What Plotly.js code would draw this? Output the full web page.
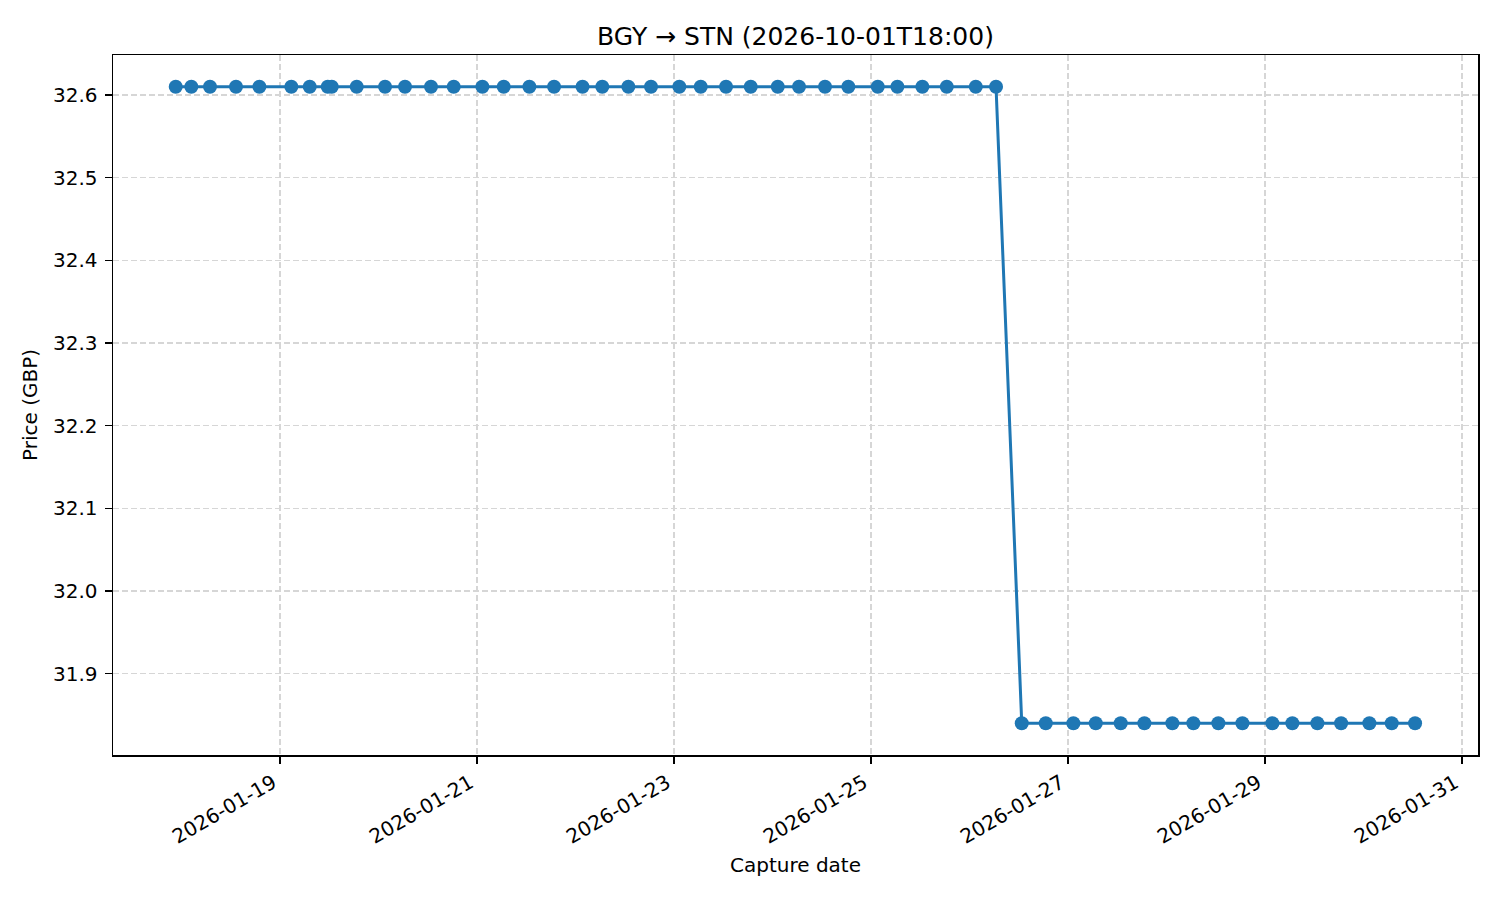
<!DOCTYPE html>
<html>
<head>
<meta charset="utf-8">
<script src="https://cdn.plot.ly/plotly-3.0.1.min.js"></script>
<style>
    html, body { margin: 0; padding: 0; background: #fff; }
    #chart { width: 1500px; height: 900px; }
</style>
</head>
<body>
<div id="chart"></div>
<script>
// BGY -> STN fare captures
const captureTimes = [
    "2026-01-17 22:35", "2026-01-18 02:23", "2026-01-18 06:56", "2026-01-18 13:16", "2026-01-18 18:58",
    "2026-01-19 02:45", "2026-01-19 07:14", "2026-01-19 11:37", "2026-01-19 12:36", "2026-01-19 18:41",
    "2026-01-20 01:35", "2026-01-20 06:27", "2026-01-20 12:47", "2026-01-20 18:19",
    "2026-01-21 01:18", "2026-01-21 06:30", "2026-01-21 12:45", "2026-01-21 18:46",
    "2026-01-22 01:42", "2026-01-22 06:31", "2026-01-22 12:52", "2026-01-22 18:23",
    "2026-01-23 01:17", "2026-01-23 06:30", "2026-01-23 12:40", "2026-01-23 18:41",
    "2026-01-24 01:16", "2026-01-24 06:27", "2026-01-24 12:47", "2026-01-24 18:28",
    "2026-01-25 01:38", "2026-01-25 06:25", "2026-01-25 12:30", "2026-01-25 18:27",
    "2026-01-26 01:31", "2026-01-26 06:27",
    "2026-01-26 12:43", "2026-01-26 18:34",
    "2026-01-27 01:18", "2026-01-27 06:45", "2026-01-27 12:50", "2026-01-27 18:36",
    "2026-01-28 01:25", "2026-01-28 06:32", "2026-01-28 12:37", "2026-01-28 18:29",
    "2026-01-29 01:47", "2026-01-29 06:39", "2026-01-29 12:45", "2026-01-29 18:32",
    "2026-01-30 01:25", "2026-01-30 06:52", "2026-01-30 12:33"
];

const prices = [
    32.61, 32.61, 32.61, 32.61, 32.61,
    32.61, 32.61, 32.61, 32.61, 32.61,
    32.61, 32.61, 32.61, 32.61,
    32.61, 32.61, 32.61, 32.61,
    32.61, 32.61, 32.61, 32.61,
    32.61, 32.61, 32.61, 32.61,
    32.61, 32.61, 32.61, 32.61,
    32.61, 32.61, 32.61, 32.61,
    32.61, 32.61,
    31.84, 31.84,
    31.84, 31.84, 31.84, 31.84,
    31.84, 31.84, 31.84, 31.84,
    31.84, 31.84, 31.84, 31.84,
    31.84, 31.84, 31.84
];

const xTickVals = ["2026-01-19", "2026-01-21", "2026-01-23", "2026-01-25", "2026-01-27", "2026-01-29", "2026-01-31"];
const yTickVals = [31.9, 32.0, 32.1, 32.2, 32.3, 32.4, 32.5, 32.6];

const chartTitle = "BGY → STN (2026-10-01T18:00)";
const fontFamily = "DejaVu Sans, sans-serif";

const trace = {
    x: captureTimes,
    y: prices,
    type: 'scatter',
    mode: 'lines+markers',
    line: { color: '#1f77b4', width: 3 },
    marker: { color: '#1f77b4', size: 14 },
    hoverinfo: 'x+y'
};

const axisCommon = {
    showline: true,
    mirror: true,
    linecolor: '#000',
    linewidth: 1.5,
    ticks: 'outside',
    ticklen: 7,
    tickwidth: 1.5,
    tickcolor: '#000',
    showgrid: true,
    gridcolor: '#d6d6d6',
    gridwidth: 1.5,
    griddash: '6px,3px',
    zeroline: false,
    tickfont: { family: fontFamily, size: 20, color: '#000' }
};

const layout = {
    width: 1500,
    height: 900,
    margin: { l: 113, r: 22, t: 55, b: 145 },
    paper_bgcolor: '#fff',
    plot_bgcolor: '#fff',
    showlegend: false,
    font: { family: fontFamily, color: '#000' },
    title: {
        text: chartTitle,
        font: { family: fontFamily, size: 25, color: '#000' },
        x: 0.5,
        xref: 'paper',
        xanchor: 'center',
        y: 1 - 36 / 900,
        yref: 'container',
        yanchor: 'middle'
    },
    xaxis: Object.assign({}, axisCommon, {
        type: 'date',
        range: ["2026-01-17 07:18", "2026-01-31 03:53"],
        tickmode: 'array',
        tickvals: xTickVals,
        ticktext: xTickVals,
        tickangle: -30,
        ticklabelshift: -7,
        ticklabelstandoff: 0,
        title: { text: 'Capture date', font: { family: fontFamily, size: 20, color: '#000' }, standoff: 10 }
    }),
    yaxis: Object.assign({}, axisCommon, {
        range: [31.8015, 32.6485],
        tickmode: 'array',
        tickvals: yTickVals,
        tickformat: '.1f',
        ticklabelstandoff: 3,
        title: { text: 'Price (GBP)', font: { family: fontFamily, size: 20, color: '#000' }, standoff: 10 }
    })
};

Plotly.newPlot('chart', [trace], layout, { displayModeBar: false, staticPlot: true });
</script>
</body>
</html>
